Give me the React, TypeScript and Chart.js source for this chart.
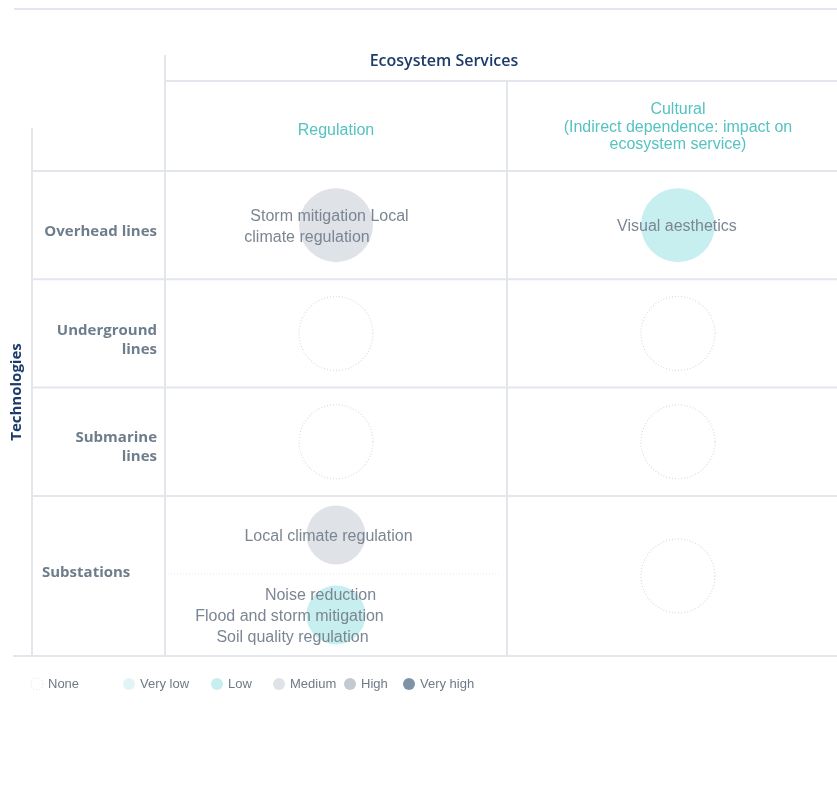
import React, { useEffect, useRef } from "react";
import { Chart, registerables } from "chart.js";

Chart.register(...registerables);

// ---------- data ----------
const headerTitle = "Ecosystem Services";
const axisTitle = "Technologies";
const columns = ["Regulation", "Cultural"];
const columnNotes: string[][] = [[], ["(Indirect dependence: impact on", "ecosystem service)"]];
const rowLabels: string[][] = [["Overhead lines"], ["Underground", "lines"], ["Submarine", "lines"], ["Substations"]];
const levels = ["None", "Very low", "Low", "Medium", "High", "Very high"];
const cellRows = [0, 0, 1, 1, 2, 2, 3, 3, 3];
const cellCols = [0, 1, 0, 1, 0, 1, 0, 0, 1];
const cellLevels = ["Medium", "Low", "None", "None", "None", "None", "Medium", "Low", "None"];
const cellTexts: string[][] = [
  ["Storm mitigation Local", "climate regulation"],
  ["Visual aesthetics"],
  [],
  [],
  [],
  [],
  ["Local climate regulation"],
  ["Noise reduction", "Flood and storm mitigation", "Soil quality regulation"],
  [],
];

// ---------- styles / layout ----------
const levelFill: Record<string, string> = {
  None: "rgba(0,0,0,0)",
  "Very low": "#e2f5f6",
  Low: "#c7eff0",
  Medium: "#dfe2e7",
  High: "#c3c9d0",
  "Very high": "#7f93a6",
};
const lineColor = "#e3e6ec";
const navy = "#1c3b6a";
const teal = "#56c2c2";
const cellTextColor = "#7b8693";
const rowLabelColor = "#6e7d8c";
const sans = "'Liberation Sans', Arial, sans-serif";
const boldSans = "'Open Sans', 'Noto Sans', sans-serif";
const rowSpans = [1, 1, 1, 1.478];
const subSplit = 0.4875;
const xMax = 1.965;
const rFull = 37;
const rSub = 29.5;
const labelDx: number[][] = [[-6.5, -29], [-1], [], [], [], [], [-7.5], [-15.5, -46.5, -43.5], []];
const rowLabelAlign = ["right", "right", "right", "left"];
const rowLabelDy = [6.5, 6.5, 5.5, -3];
const legendX = [37, 129, 217, 279, 350, 409];

function rowStart(r: number) {
  let s = 0;
  for (let i = 0; i < r; i++) s += rowSpans[i];
  return s;
}

function buildPoints() {
  return cellRows.map((row, i) => {
    const same = cellRows.map((r, j) => j).filter((j) => cellRows[j] === row && cellCols[j] === cellCols[i]);
    const slot = same.indexOf(i);
    const start = rowStart(row);
    const span = rowSpans[row];
    let y: number;
    let r: number;
    if (same.length === 1) {
      y = start + span / 2;
      r = rFull;
    } else {
      y = slot === 0 ? start + (span * subSplit) / 2 : start + span * (subSplit + (1 - subSplit) / 2);
      r = rSub;
    }
    return { x: cellCols[i] + 0.5, y, r, cell: i, multi: same.length > 1 };
  });
}

function hline(ctx: CanvasRenderingContext2D, x1: number, x2: number, y: number) {
  ctx.beginPath();
  ctx.moveTo(x1, y);
  ctx.lineTo(x2, y);
  ctx.stroke();
}
function vline(ctx: CanvasRenderingContext2D, x: number, y1: number, y2: number) {
  ctx.beginPath();
  ctx.moveTo(x, y1);
  ctx.lineTo(x, y2);
  ctx.stroke();
}
function dottedCircle(ctx: CanvasRenderingContext2D, x: number, y: number, r: number, w = 1.2) {
  ctx.save();
  ctx.strokeStyle = "#d9dce2";
  ctx.lineWidth = w;
  ctx.setLineDash([1, 2]);
  ctx.beginPath();
  ctx.arc(x, y, r, 0, Math.PI * 2);
  ctx.stroke();
  ctx.restore();
}

const tablePlugin = {
  id: "tablePlugin",
  beforeDatasetsDraw(chart: any) {
    const ctx: CanvasRenderingContext2D = chart.ctx;
    const { right, bottom, left } = chart.chartArea;
    const xs = chart.scales.x;
    const ys = chart.scales.y;
    const colX = columns.map((_, c) => xs.getPixelForValue(c));
    ctx.save();
    ctx.strokeStyle = lineColor;
    ctx.lineWidth = 2;
    hline(ctx, 14, right, 9);
    vline(ctx, colX[0], 55, bottom);
    hline(ctx, colX[0], right, 81);
    for (let c = 1; c < colX.length; c++) vline(ctx, colX[c], 81, bottom);
    vline(ctx, 32, 128, bottom);
    for (let r = 0; r < rowSpans.length; r++) hline(ctx, 32, right, ys.getPixelForValue(rowStart(r)));
    hline(ctx, 13, right, bottom);
    // sub-row dividers
    ctx.lineWidth = 1;
    ctx.setLineDash([1, 2]);
    ctx.strokeStyle = "#e6e8ec";
    const pts = buildPoints();
    pts.forEach((p) => {
      const row = cellRows[p.cell];
      if (p.multi && pts.filter((q) => q.multi && cellRows[q.cell] === row && q.x === p.x)[0] === p) {
        const yv = rowStart(row) + rowSpans[row] * subSplit;
        hline(ctx, xs.getPixelForValue(p.x - 0.5), xs.getPixelForValue(p.x + 0.5) - 8, ys.getPixelForValue(yv));
      }
    });
    ctx.setLineDash([]);

    // headers
    ctx.textBaseline = "middle";
    ctx.textAlign = "center";
    ctx.fillStyle = navy;
    ctx.font = `600 16px ${boldSans}`;
    ctx.fillText(headerTitle, 444, 61);

    ctx.font = `16px ${sans}`;
    ctx.fillStyle = teal;
    columns.forEach((name, c) => {
      const lines = [name, ...columnNotes[c]];
      const cx = xs.getPixelForValue(c + 0.5);
      const y0 = lines.length === 1 ? 131 : 110;
      lines.forEach((ln, k) => {
        ctx.fillText(ln, cx, y0 + k * 17.5);
      });
    });

    // row labels
    ctx.fillStyle = rowLabelColor;
    ctx.font = `700 15px ${boldSans}`;
    rowLabels.forEach((lines, r) => {
      const cy = ys.getPixelForValue(rowStart(r) + rowSpans[r] / 2) + rowLabelDy[r];
      const align = rowLabelAlign[r];
      ctx.textAlign = align as CanvasTextAlign;
      const x = align === "right" ? left - 8 : 42;
      lines.forEach((ln, k) => {
        ctx.fillText(ln, x, cy + (k - (lines.length - 1) / 2) * 19);
      });
    });

    // axis title
    ctx.save();
    ctx.translate(17, 392);
    ctx.rotate(-Math.PI / 2);
    ctx.textAlign = "center";
    ctx.fillStyle = navy;
    ctx.font = `700 15px ${boldSans}`;
    ctx.fillText(axisTitle, 0, 0);
    ctx.restore();
    ctx.restore();
  },
  afterDatasetsDraw(chart: any) {
    const ctx: CanvasRenderingContext2D = chart.ctx;
    ctx.save();
    chart.data.datasets.forEach((ds: any, di: number) => {
      const meta = chart.getDatasetMeta(di);
      meta.data.forEach((el: any, j: number) => {
        const raw = ds.data[j];
        if (ds.label === "None") dottedCircle(ctx, el.x, el.y, raw.r);
      });
    });
    ctx.font = `16px ${sans}`;
    ctx.fillStyle = cellTextColor;
    ctx.textAlign = "center";
    ctx.textBaseline = "middle";
    chart.data.datasets.forEach((ds: any, di: number) => {
      const meta = chart.getDatasetMeta(di);
      meta.data.forEach((el: any, j: number) => {
        const cell = ds.data[j].cell;
        const lines = cellTexts[cell];
        lines.forEach((ln, k) => {
          const dx = (labelDx[cell] && labelDx[cell][k]) || 0;
          ctx.fillText(ln, el.x + dx, el.y + 1.5 + (k - (lines.length - 1) / 2) * 21);
        });
      });
    });

    // legend
    const ly = 684;
    ctx.font = `13px ${sans}`;
    ctx.textAlign = "left";
    levels.forEach((lv, i) => {
      const x = legendX[i];
      if (lv === "None") {
        dottedCircle(ctx, x, ly, 6, 1);
      } else {
        ctx.beginPath();
        ctx.fillStyle = levelFill[lv];
        ctx.arc(x, ly, 6, 0, Math.PI * 2);
        ctx.fill();
      }
      ctx.fillStyle = "#6f7a86";
      ctx.fillText(lv, x + 11, ly);
    });
    ctx.restore();
  },
};

export default function App() {
  const ref = useRef<HTMLCanvasElement | null>(null);
  useEffect(() => {
    if (!ref.current) return;
    const pts = buildPoints();
    const chart = new Chart(ref.current, {
      type: "bubble",
      data: {
        datasets: levels.map((lv) => ({
          label: lv,
          data: pts.filter((p) => cellLevels[p.cell] === lv) as any,
          backgroundColor: levelFill[lv],
          borderWidth: 0,
          hoverRadius: 0,
          hoverBorderWidth: 0,
        })),
      },
      options: {
        responsive: true,
        maintainAspectRatio: false,
        animation: false,
        events: [],
        devicePixelRatio: 1,
        layout: { autoPadding: false, padding: { left: 165, top: 171, right: 0, bottom: 150 } },
        scales: {
          x: { type: "linear", display: false, min: 0, max: xMax },
          y: { type: "linear", display: false, reverse: true, min: 0, max: rowStart(rowSpans.length) },
        },
        plugins: { legend: { display: false }, tooltip: { enabled: false } },
      },
      plugins: [tablePlugin],
    });
    return () => chart.destroy();
  }, []);
  return (
    <div style={{ position: "absolute", left: 0, top: 0, width: 837, height: 806, background: "#fff" }}>
      <canvas ref={ref} style={{ display: "block" }} />
    </div>
  );
}
